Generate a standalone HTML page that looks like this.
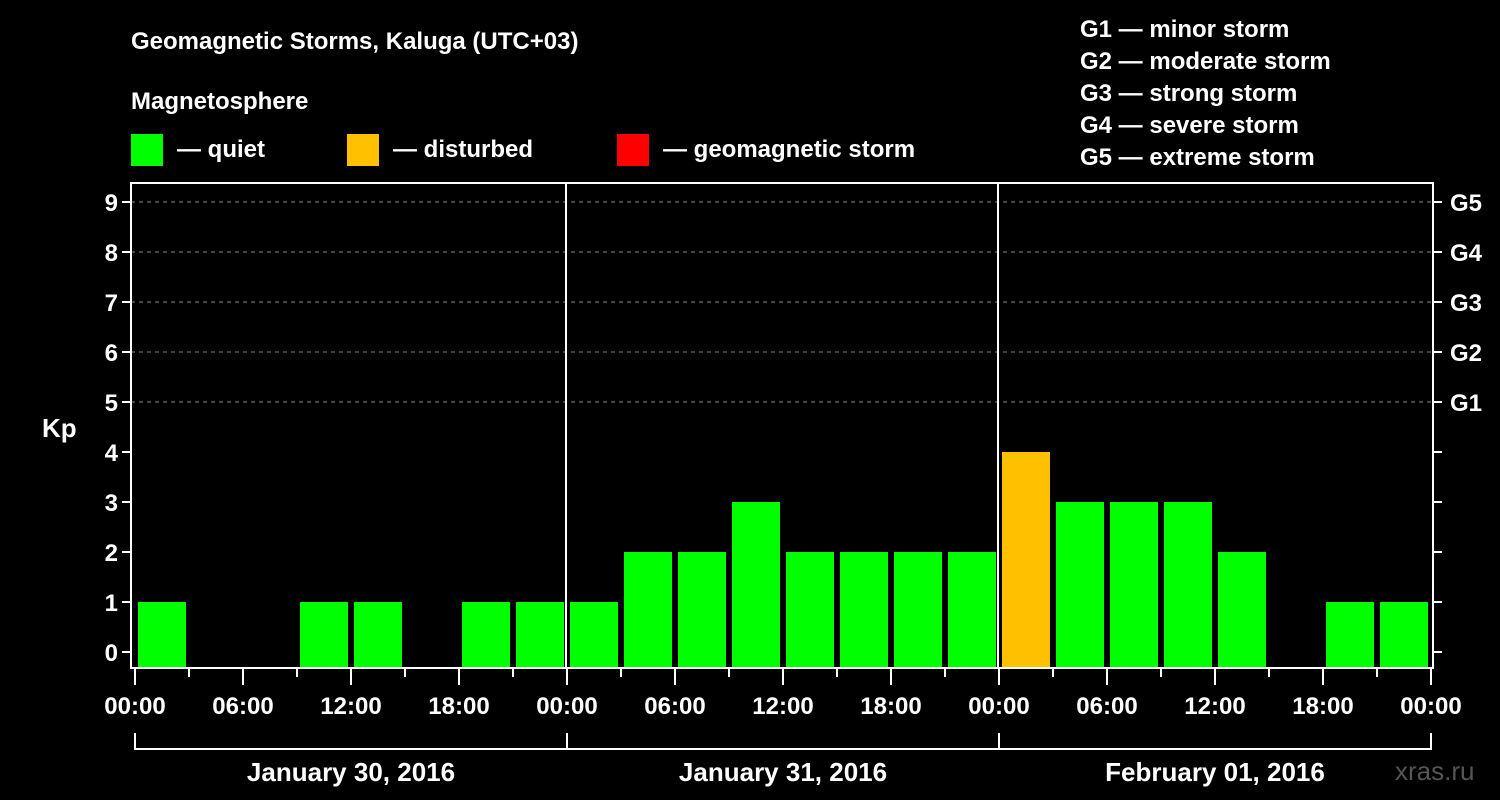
<!DOCTYPE html>
<html><head><meta charset="utf-8"><style>
html,body{margin:0;padding:0;background:#000;}
svg{display:block;font-family:"Liberation Sans",sans-serif;font-weight:bold;}
</style></head><body>
<svg id="chart" width="1500" height="800" viewBox="0 0 1500 800">
<rect width="1500" height="800" fill="#000"/>
<text x="131" y="49" fill="#fff" font-size="24">Geomagnetic Storms, Kaluga (UTC+03)</text>
<text x="131" y="109" fill="#fff" font-size="24">Magnetosphere</text>
<g><rect x="131" y="134" width="32" height="32" fill="#00ff00"/><text x="177" y="157" fill="#fff" font-size="24">— quiet</text></g>
<g><rect x="347" y="134" width="32" height="32" fill="#ffc000"/><text x="393" y="157" fill="#fff" font-size="24">— disturbed</text></g>
<g><rect x="617" y="134" width="32" height="32" fill="#ff0000"/><text x="663" y="157" fill="#fff" font-size="24">— geomagnetic storm</text></g>
<g fill="#fff" font-size="24">
<text x="1080" y="37">G1 — minor storm</text>
<text x="1080" y="69">G2 — moderate storm</text>
<text x="1080" y="101">G3 — strong storm</text>
<text x="1080" y="133">G4 — severe storm</text>
<text x="1080" y="165">G5 — extreme storm</text>
</g>
<text x="42" y="437" fill="#fff" font-size="26">Kp</text>
<text x="1395" y="780" fill="#555" font-size="26" font-weight="normal">xras.ru</text>
<g id="grid"></g><g id="bars"></g><g id="axes"></g>
</svg>
<script>
const days = ["January 30, 2016","January 31, 2016","February 01, 2016"];
const values = [1,0,0,1,1,0,1,1, 1,2,2,3,2,2,2,2, 4,3,3,3,2,0,1,1];
const yTicks = [0,1,2,3,4,5,6,7,8,9];
const gLabels = ["G1","G2","G3","G4","G5"];
const hourLabels = ["00:00","06:00","12:00","18:00"];

const NS="http://www.w3.org/2000/svg";
const X0=135, HOURPX=18, LEFT=131, RIGHT=1433, TOP=183, BOTTOM=668;
const xh=h=>X0+h*HOURPX;
const y=v=>652-50*v;
function mk(tag,attrs,parent,text){const e=document.createElementNS(NS,tag);for(const k in attrs)e.setAttribute(k,attrs[k]);if(text!==undefined)e.textContent=text;parent.appendChild(e);return e;}
const grid=document.getElementById('grid'),bars=document.getElementById('bars'),axes=document.getElementById('axes');

yTicks.forEach(v=>{
  if(v>=5){const l=mk('line',{x1:LEFT,x2:RIGHT,y1:y(v),y2:y(v),stroke:'#888','stroke-width':1,'stroke-dasharray':'4,4'},grid);
  
  }
  const t=mk('line',{x1:LEFT-9,x2:LEFT,y1:y(v),y2:y(v),stroke:'#fff','stroke-width':2},axes);
  
  
  const t2=mk('line',{x1:RIGHT,x2:RIGHT+9,y1:y(v),y2:y(v),stroke:'#fff','stroke-width':2},axes);
  
  
  const lb=mk('text',{x:LEFT-13,y:y(v)+9,fill:'#fff','font-size':24,'text-anchor':'end'},axes,String(v));
  
  
});
gLabels.forEach((g,i)=>{
  const lb=mk('text',{x:1450,y:y(5+i)+9,fill:'#fff','font-size':24},axes,g);
  
  
});

values.forEach((v,i)=>{
  if(v<=0)return;
  const col=v>=5?'#ff0000':(v>=4?'#ffc000':'#00ff00');
  const b=mk('rect',{x:xh(i*3)+3,y:y(v),width:48,height:BOTTOM-y(v),fill:col},bars);
  
  
});

for(let d=1;d<days.length;d++){
  const l=mk('line',{x1:xh(d*24)-1,x2:xh(d*24)-1,y1:TOP,y2:BOTTOM,stroke:'#fff','stroke-width':2},axes);
  
  
}
const frame=mk('rect',{x:LEFT,y:TOP,width:RIGHT-LEFT,height:BOTTOM-TOP,fill:'none',stroke:'#fff','stroke-width':2},axes);



for(let h=0;h<=days.length*24;h+=3){
  const major=h%6===0;
  const t=mk('line',{x1:xh(h),x2:xh(h),y1:BOTTOM,y2:major?685:677,stroke:'#fff','stroke-width':2},axes);
  
  
  if(major){
    const lb=mk('text',{x:xh(h),y:714,fill:'#fff','font-size':24,'text-anchor':'middle'},axes,hourLabels[(h/6)%4]);
    
    
  }
}
const br=mk('path',{d:`M${xh(0)},733 V749 H${xh(days.length*24)} V733`+days.map((_,d)=>d>0?` M${xh(d*24)},733 V749`:'').join(''),fill:'none',stroke:'#fff','stroke-width':2},axes);


days.forEach((d,i)=>{
  const lb=mk('text',{x:xh(i*24+12),y:781,fill:'#fff','font-size':26,'text-anchor':'middle'},axes,d);
  
  
});
</script>
</body></html>
